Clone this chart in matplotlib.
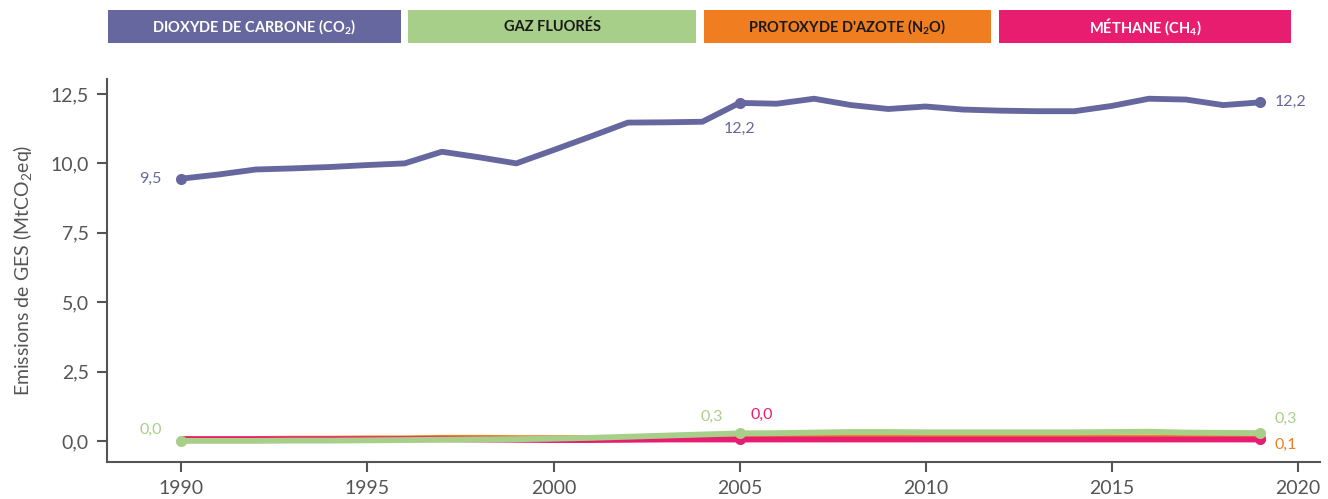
import matplotlib
matplotlib.use("Agg")
import matplotlib.pyplot as plt
from matplotlib.patches import Rectangle

plt.rcParams['font.family'] = ['Lato', 'DejaVu Sans']
plt.rcParams['mathtext.fontset'] = 'custom'
plt.rcParams['mathtext.rm'] = 'Lato'
plt.rcParams['mathtext.bf'] = 'Lato:bold'
plt.rcParams['mathtext.default'] = 'regular'

years = list(range(1990, 2020))
co2 = [9.45, 9.6, 9.78, 9.82, 9.87, 9.94, 10.0, 10.42, 10.22, 10.0,
       10.48, 10.97, 11.47, 11.48, 11.5, 12.18, 12.15, 12.33, 12.1, 11.96,
       12.05, 11.94, 11.9, 11.88, 11.88, 12.07, 12.33, 12.3, 12.1, 12.2]
fluores = [0.0, 0.0, 0.0, 0.01, 0.01, 0.02, 0.03, 0.04, 0.05, 0.06,
           0.08, 0.11, 0.15, 0.19, 0.23, 0.27, 0.28, 0.3, 0.32, 0.32,
           0.31, 0.31, 0.31, 0.31, 0.31, 0.32, 0.33, 0.3, 0.29, 0.28]
n2o = [0.07, 0.07, 0.07, 0.08, 0.08, 0.09, 0.09, 0.11, 0.11, 0.1,
       0.1, 0.1, 0.1, 0.1, 0.11, 0.12, 0.12, 0.12, 0.12, 0.12,
       0.12, 0.12, 0.12, 0.12, 0.12, 0.12, 0.12, 0.12, 0.12, 0.12]
ch4 = [0.06, 0.06, 0.06, 0.06, 0.06, 0.06, 0.06, 0.06, 0.05, 0.04,
       0.03, 0.03, 0.04, 0.05, 0.05, 0.05, 0.05, 0.05, 0.05, 0.05,
       0.05, 0.05, 0.05, 0.05, 0.05, 0.05, 0.05, 0.05, 0.05, 0.05]

series_names = [r"DIOXYDE DE CARBONE (CO$_\mathbf{2}$)", "GAZ FLUORÉS",
                r"PROTOXYDE D'AZOTE (N$_\mathbf{2}$O)", r"MÉTHANE (CH$_\mathbf{4}$)"]
colors = ["#66679E", "#A8CF8A", "#F07E20", "#E91D6F"]
text_colors = ["white", "#1a1a1a", "#1a1a1a", "white"]
yticks = [0, 2.5, 5, 7.5, 10, 12.5]
xticks = [1990, 1995, 2000, 2005, 2010, 2015, 2020]

fig = plt.figure(figsize=(13.28, 4.99), dpi=100)
ax = fig.add_axes([107/1328, 37.3/499, 1213/1328, 382.4/499])

mk_years_all = [[1990, 2005, 2019], [1990, 2005, 2019], [2019], [2005, 2019]]
def idx(y):
    return years.index(y)

order = [0, 2, 3, 1]
data = [co2, fluores, n2o, ch4]
for i in order:
    ax.plot(years, data[i], color=colors[i], lw=4.2, solid_joinstyle='round',
            solid_capstyle='round', zorder=3 + (1 if i == 1 else 0))
    mky = mk_years_all[i]
    mk = [data[i][idx(y)] for y in mky]
    ax.plot(mky, mk, 'o', color=colors[i], ms=8, mec='none',
            zorder=6 if i == 1 else 5)

fs = 11.5
ax.annotate("9,5", (1990, co2[0]), xytext=(-14, 0), textcoords='offset points',
            ha='right', va='center', color=colors[0], fontsize=fs)
ax.annotate("12,2", (2005, co2[idx(2005)]), xytext=(0, -19), textcoords='offset points',
            ha='center', va='center', color=colors[0], fontsize=fs)
ax.annotate("12,2", (2019, co2[idx(2019)]), xytext=(10, 0), textcoords='offset points',
            ha='left', va='center', color=colors[0], fontsize=fs)
ax.annotate("0,0", (1990, fluores[0]), xytext=(-14, 8), textcoords='offset points',
            ha='right', va='center', color=colors[1], fontsize=fs)
ax.annotate("0,3", (2005, fluores[idx(2005)]), xytext=(-12, 12), textcoords='offset points',
            ha='right', va='center', color=colors[1], fontsize=fs)
ax.annotate("0,0", (2005, ch4[idx(2005)]), xytext=(8, 18), textcoords='offset points',
            ha='left', va='center', color=colors[3], fontsize=fs)
ax.annotate("0,3", (2019, fluores[idx(2019)]), xytext=(10, 10), textcoords='offset points',
            ha='left', va='center', color=colors[1], fontsize=fs)
ax.annotate("0,1", (2019, n2o[idx(2019)]), xytext=(10, -5), textcoords='offset points',
            ha='left', va='center', color=colors[2], fontsize=fs)

ax.set_xlim(1988, 2020.6)
ax.set_ylim(-0.75, 13.03)
ax.set_xticks(xticks)
ax.set_yticks(yticks)
ax.set_yticklabels([f"{v:.1f}".replace('.', ',') for v in yticks])
ax.set_xticklabels([str(x) for x in xticks])
for s in ['top', 'right']:
    ax.spines[s].set_visible(False)
for s in ['left', 'bottom']:
    ax.spines[s].set_color('#555555')
    ax.spines[s].set_linewidth(1.5)
ax.tick_params(axis='both', colors='#555555', labelsize=14, length=7, width=1.5,
               labelcolor='#555555')
ax.tick_params(axis='y', pad=6)
ax.tick_params(axis='x', pad=6)
ax.set_ylabel("Emissions de GES (MtCO$_2$eq)", fontsize=14, color='#555555', labelpad=12)

boxes = [(108, 401), (408, 696), (704, 991), (999, 1291)]
for (x0, x1), name, c, tc in zip(boxes, series_names, colors, text_colors):
    y0, y1 = 10, 43
    r = Rectangle((x0/1328, 1 - y1/499), (x1-x0)/1328, (y1-y0)/499,
                  transform=fig.transFigure, facecolor=c, edgecolor='none')
    fig.add_artist(r)
    fig.text((x0+x1)/2/1328, 1 - (y0+y1)/2/499, name, ha='center', va='center',
             color=tc, fontsize=10.5, fontweight='bold')

fig.savefig("out.png", dpi=100)
